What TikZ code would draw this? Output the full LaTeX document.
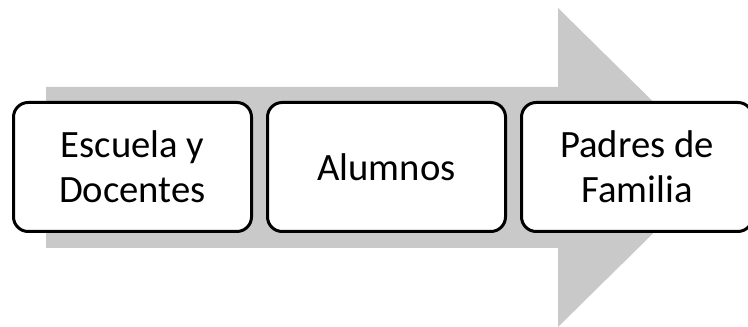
\documentclass[tikz,border=0pt]{standalone}
\usepackage{fontspec}
\setmainfont{Carlito}
\usetikzlibrary{positioning}
\begin{document}
\begin{tikzpicture}[x=0.75pt,y=0.75pt]
        \tikzstyle{stage}=[draw=black,line width=2.25pt,fill=white,rounded corners=11pt,minimum width=178.5pt,minimum height=96.75pt,align=center,inner sep=0pt,font=\fontsize{29}{34}\selectfont]
        \tikzstyle{band}=[fill=black!21,draw=none]
       \useasboundingbox (0,0) rectangle (748,327);
       \begin{scope}
         \path[band] (46,79) -- (558,79) -- (558,0) -- (720,159.5) -- (558,319) -- (558,240) -- (46,240) -- cycle;

         \node [stage] (esc) at (132.5,160) {Escuela y\\Docentes};
         \node [stage,right=9.75pt of esc] (alu) {Alumnos};
         \node [stage,minimum width=173.25pt,right=9.75pt of alu] (pad) {Padres de\\Familia};
        \end{scope}
      \end{tikzpicture}
\end{document}
